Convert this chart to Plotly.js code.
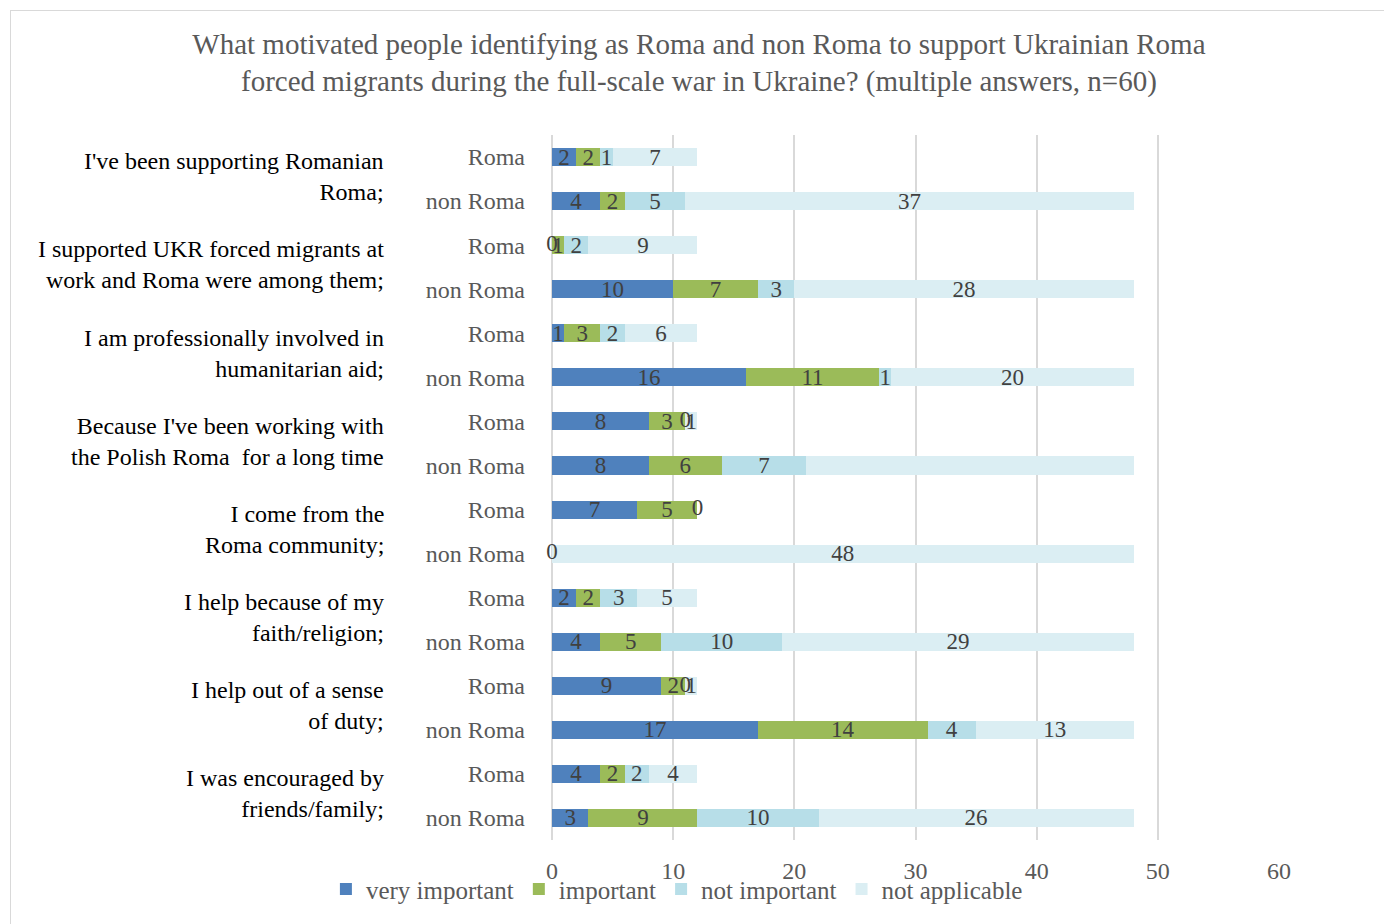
<!DOCTYPE html>
<html>
<head>
<meta charset="utf-8">
<script src="https://cdn.plot.ly/plotly-3.0.1.min.js"></script>
<style>
  html, body { margin: 0; padding: 0; background: #ffffff; }
  #chart { position: absolute; left: 0; top: 0; width: 1384px; height: 924px; }
  #frame { position: absolute; left: 10px; top: 10px; width: 1400px; height: 1000px; border: 1px solid #d9d9d9; pointer-events: none; }
</style>
</head>
<body>
<div id="chart"></div>
<div id="frame"></div>
<script>
// ---- data ----
const groups = [
  "I've been supporting Romanian<br>Roma;",
  "I supported UKR forced migrants at<br>work and Roma were among them;",
  "I am professionally involved in<br>humanitarian aid;",
  "Because I've been working with<br>the Polish Roma  for a long time",
  "I come from the<br>Roma community;",
  "I help because of my<br>faith/religion;",
  "I help out of a sense<br>of duty;",
  "I was encouraged by<br>friends/family;"
];
const respondents = ["Roma", "non Roma"];
const seriesNames = ["very important", "important", "not important", "not applicable"];

// values per row, order: g1 Roma, g1 non Roma, g2 Roma, ...
const veryImportant = [2, 4, 0, 10, 1, 16, 8, 8, 7, 0, 2, 4, 9, 17, 4, 3];
const important     = [2, 2, 1, 7, 3, 11, 3, 6, 5, 0, 2, 5, 2, 14, 2, 9];
const notImportant  = [1, 5, 2, 3, 2, 1, 0, 7, 0, 0, 3, 10, 0, 4, 2, 10];
const notApplicable = [7, 37, 9, 28, 6, 20, 1, 27, 0, 48, 5, 29, 1, 13, 4, 26];
// labels that are not shown in the original (series index, row index)
const hiddenLabels = [[3, 7], [1, 9], [2, 9], [3, 8]];

const xTicks = [0, 10, 20, 30, 40, 50, 60];
const colors = ["#4F81BD", "#9BBB59", "#B7DEE8", "#DBEEF3"];

// ---- build ----
const rowIds = [];
const rowText = [];
groups.forEach((g, gi) => respondents.forEach(r => { rowIds.push("g" + gi + "_" + r); rowText.push(r); }));

const serif = "Liberation Serif, Times New Roman, serif";
const labelFont = { family: serif, size: 23, color: "#404040" };
const allSeries = [veryImportant, important, notImportant, notApplicable];
const isHidden = (si, ri) => hiddenLabels.some(h => h[0] === si && h[1] === ri);

const traces = allSeries.map((vals, si) => ({
  type: "bar",
  orientation: "h",
  name: seriesNames[si],
  y: rowIds,
  x: vals,
  text: vals.map((v, ri) => isHidden(si, ri) ? "" : String(v)),
  textposition: "inside",
  insidetextanchor: "middle",
  textangle: 0,
  constraintext: "none",
  cliponaxis: false,
  textfont: labelFont,
  marker: { color: colors[si], line: { width: 0 } },
  hoverinfo: "x+name"
}));

// labels for zero-length segments (the bar itself has no width to hold text)
const zx = [], zy = [], zt = [];
allSeries.forEach((vals, si) => {
  vals.forEach((v, ri) => {
    if (v === 0 && !isHidden(si, ri)) {
      let start = 0;
      for (let k = 0; k < si; k++) start += allSeries[k][ri];
      zx.push(start); zy.push(rowIds[ri]); zt.push(String(v));
    }
  });
});
traces.push({
  type: "scatter",
  mode: "text",
  x: zx, y: zy, text: zt,
  textposition: "middle center",
  textfont: labelFont,
  cliponaxis: false,
  showlegend: false,
  hoverinfo: "skip"
});

const annotations = groups.map((g, gi) => ({
  xref: "paper", yref: "y",
  x: -0.228, y: gi * 2 + 0.45,
  xanchor: "right", yanchor: "middle",
  align: "right",
  text: g,
  showarrow: false,
  font: { family: serif, size: 24, color: "#000000" }
}));

const layout = {
  width: 1384, height: 924,
  paper_bgcolor: "#ffffff",
  plot_bgcolor: "#ffffff",
  margin: { l: 552, r: 105, t: 135, b: 82 },
  barmode: "stack",
  bargap: 0.59,
  showlegend: true,
  title: {
    text: "What motivated people identifying as Roma and non Roma to support Ukrainian Roma<br>forced migrants during the full-scale war in Ukraine? (multiple answers, n=60)",
    x: 0.505, xanchor: "center",
    yref: "container",
    y: 0.942, yanchor: "middle",
    font: { family: serif, size: 29, color: "#595959" }
  },
  xaxis: {
    range: [0, 60],
    tickvals: xTicks,
    ticktext: xTicks.map(String),
    showgrid: true,
    gridcolor: "#d9d9d9",
    gridwidth: 2,
    zeroline: true,
    zerolinecolor: "#d9d9d9",
    zerolinewidth: 2,
    showline: false,
    ticks: "",
    ticklabelstandoff: 14,
    tickfont: { family: serif, size: 24, color: "#595959" }
  },
  yaxis: {
    type: "category",
    categoryorder: "array",
    categoryarray: rowIds,
    tickvals: rowIds,
    ticktext: rowText,
    autorange: "reversed",
    showgrid: false,
    zeroline: false,
    showline: false,
    ticks: "",
    ticklabelstandoff: 26,
    tickfont: { family: serif, size: 24, color: "#595959" }
  },
  legend: {
    orientation: "h",
    x: -0.311, xanchor: "left",
    y: -0.07, yanchor: "middle",
    itemwidth: 30,
    traceorder: "normal",
    font: { family: serif, size: 25, color: "#595959" },
    bgcolor: "rgba(0,0,0,0)"
  },
  annotations: annotations
};

Plotly.newPlot("chart", traces, layout, { displayModeBar: false, staticPlot: true });
</script>
</body>
</html>
